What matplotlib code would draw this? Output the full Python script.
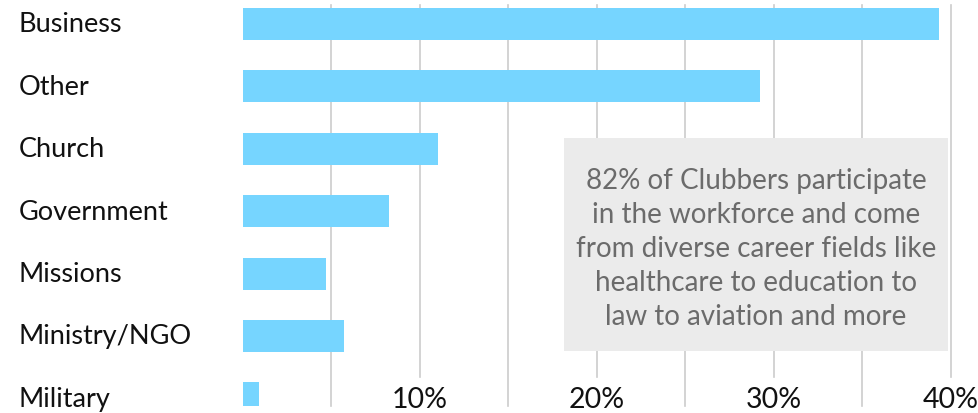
import matplotlib
matplotlib.use("Agg")
import matplotlib.pyplot as plt
import matplotlib.transforms as mtransforms

categories = ["Business", "Other", "Church", "Government", "Missions", "Ministry/NGO", "Military"]
values = [39.3, 29.2, 11.0, 8.25, 4.7, 5.7, 0.9]
tick_values = [10, 20, 30, 40]
tick_labels = ["10%", "20%", "30%", "40%"]
grid_values = [5, 10, 15, 20, 25, 30, 35, 40]
note = ("82% of Clubbers participate\nin the workforce and come\nfrom diverse career fields like\n"
        "healthcare to education to\nlaw to aviation and more")

W, H = 979, 414
fig = plt.figure(figsize=(W / 100, H / 100), dpi=100)
left_px, top_px, bottom_px = 243, 6, 407
x_max = 40.5
px_per_x = (951 - 243) / 40.0
px_per_y = 62.4
y0_px = 25.0
right_px = left_px + x_max * px_per_x
ax = fig.add_axes([left_px / W, 1 - bottom_px / H, (right_px - left_px) / W, (bottom_px - top_px) / H])

def dx(px):
    return (px - left_px) / px_per_x

def dy(px):
    return (px - y0_px) / px_per_y

ypos = list(range(len(categories)))
ax.barh(ypos, values, height=0.51, color="#76D5FF", zorder=3)
ax.set_xlim(0, x_max)
ax.set_ylim(dy(bottom_px), dy(top_px))

label_gap = (bottom_px - 378) / (bottom_px - top_px)
for g in grid_values:
    ymin = label_gap if g in tick_values else 0
    ax.axvline(g, ymin=ymin, color="#CCCCCC", lw=1.2, zorder=1, clip_on=False)

for s in ax.spines.values():
    s.set_visible(False)

ax.set_xticks([])
ax.set_yticks(ypos)
ax.set_yticklabels(categories, fontsize=19.5, family=["Lato", "DejaVu Sans"], color="#111111")
ax.tick_params(axis="y", length=0, pad=(left_px - 19) * 0.72)
for lab in ax.get_yticklabels():
    lab.set_horizontalalignment("left")
    lab.set_verticalalignment("center")

trans = mtransforms.blended_transform_factory(ax.transData, ax.transAxes)
for v, t in zip(tick_values, tick_labels):
    ax.text(v, (bottom_px - 413) / (bottom_px - top_px), t, transform=trans, ha="center",
            va="bottom", fontsize=20.5, color="#111111",
            family=["Liberation Sans Narrow", "Lato", "DejaVu Sans"], zorder=4, clip_on=False)

bx0, bx1 = dx(564), dx(948)
by0, by1 = dy(139), dy(352)
ax.add_patch(plt.Rectangle((bx0, by0), bx1 - bx0, by1 - by0, facecolor="#EBEBEB",
                           edgecolor="none", zorder=4))
ax.text((bx0 + bx1) / 2, dy(249), note, ha="center", va="center", fontsize=20,
        color="#6B6B6B", linespacing=1.38, family=["Lato", "DejaVu Sans"], zorder=5)

fig.savefig("out.png", dpi=100)
